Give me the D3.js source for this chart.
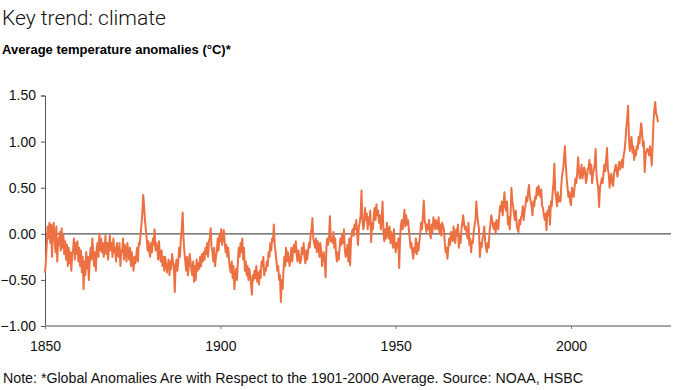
<!DOCTYPE html>
<html>
<head>
<meta charset="utf-8">
<script src="https://cdn.jsdelivr.net/npm/d3@7"></script>
<style>
  body { margin: 0; background: #fff; }
  svg { display: block; }
</style>
</head>
<body>
<div id="chart"></div>
<script>
const title = "Key trend: climate";
const subtitle = "Average temperature anomalies (°C)*";
const note = "Note: *Global Anomalies Are with Respect to the 1901-2000 Average. Source: NOAA, HSBC";

const startYear = 1850;
const stepsPerYear = 4;
const yTicks = [-1.0, -0.5, 0.0, 0.5, 1.0, 1.5];
const xTicks = [1850, 1900, 1950, 2000];

// Quarterly global temperature anomalies (°C), 1850 Q1 .. 2024 Q4
const anomaly = [
-0.42,-0.30,-0.12,0.08, -0.05,0.12,-0.10,0.10, -0.25,0.05,0.12,-0.08, -0.20,0.08,-0.30,-0.05, -0.12,0.02,-0.18,0.06,
-0.15,-0.02,-0.22,-0.08, -0.28,-0.12,-0.35,-0.15, -0.32,-0.20,-0.40,-0.22, -0.18,-0.05,-0.28,-0.10, -0.22,-0.08,-0.30,-0.15,
-0.35,-0.18,-0.42,-0.25, -0.60,-0.30,-0.45,-0.20, -0.38,-0.25,-0.50,-0.30, -0.15,-0.28,-0.05,-0.20, -0.35,-0.20,-0.40,-0.15,
-0.10,-0.25,0.00,-0.18, -0.05,-0.20,-0.10,-0.25, -0.15,-0.02,-0.22,-0.10, -0.28,-0.12,-0.02,-0.18, -0.10,-0.25,-0.05,-0.20,
-0.15,-0.30,-0.10,-0.22, -0.25,-0.10,-0.35,-0.18, -0.20,-0.05,-0.28,-0.12, -0.18,-0.30,-0.10,-0.22, -0.28,-0.15,-0.35,-0.20,
-0.30,-0.40,-0.25,-0.32, -0.25,-0.15,-0.30,-0.10, -0.12,0.00,0.10,0.22, 0.42,0.30,0.15,0.05, -0.05,-0.18,-0.08,-0.20,
-0.25,-0.10,-0.20,-0.05, -0.12,0.05,-0.18,-0.10, -0.15,-0.28,-0.08,-0.22, -0.30,-0.18,-0.35,-0.25, -0.40,-0.25,-0.32,-0.42,
-0.35,-0.28,-0.45,-0.30, -0.38,-0.22,-0.30,-0.35, -0.63,-0.35,-0.28,-0.40, -0.30,-0.15,-0.25,-0.05, 0.05,0.23,-0.05,-0.20,
-0.30,-0.40,-0.25,-0.45, -0.35,-0.22,-0.30,-0.40, -0.45,-0.30,-0.52,-0.35, -0.50,-0.28,-0.40,-0.32, -0.38,-0.25,-0.35,-0.22,
-0.30,-0.20,-0.28,-0.15, -0.22,-0.10,-0.25,-0.08, -0.05,0.06,-0.15,-0.20, -0.30,-0.15,-0.35,-0.25, -0.20,-0.05,-0.18,0.00,
-0.08,0.05,-0.12,-0.02, 0.04,-0.10,-0.20,-0.12, -0.25,-0.15,-0.30,-0.38, -0.42,-0.30,-0.48,-0.35, -0.60,-0.45,-0.38,-0.50,
-0.30,-0.15,-0.25,-0.10, -0.20,-0.05,-0.28,-0.15, -0.40,-0.30,-0.45,-0.35, -0.50,-0.38,-0.45,-0.55, -0.66,-0.45,-0.50,-0.40,
-0.48,-0.35,-0.52,-0.42, -0.55,-0.40,-0.48,-0.30, -0.35,-0.25,-0.45,-0.38, -0.40,-0.30,-0.35,-0.20, -0.25,-0.10,-0.18,-0.05,
-0.08,0.10,-0.12,-0.20, -0.30,-0.40,-0.35,-0.50, -0.45,-0.74,-0.50,-0.60, -0.40,-0.25,-0.35,-0.15, -0.30,-0.20,-0.28,-0.35,
-0.25,-0.15,-0.30,-0.18, -0.12,-0.20,-0.08,-0.22, -0.30,-0.18,-0.25,-0.32, -0.28,-0.15,-0.22,-0.10, -0.25,-0.32,-0.18,-0.28,
-0.20,-0.10,-0.15,0.00, 0.05,0.17,-0.05,-0.10, -0.15,-0.05,-0.20,-0.08, -0.12,-0.25,-0.10,-0.18, -0.35,-0.25,-0.20,-0.30,
-0.47,-0.15,-0.05,-0.12, -0.02,0.19,-0.08,-0.05, -0.10,0.02,-0.15,-0.05, -0.22,-0.30,-0.20,-0.28, -0.15,-0.05,-0.12,0.00,
-0.10,0.05,-0.18,-0.25, -0.20,-0.12,-0.30,-0.05, -0.34,-0.08,0.02,0.05, -0.02,0.10,0.05,0.15, 0.00,-0.12,0.08,0.12,
0.20,0.47,0.15,0.05, 0.10,0.28,0.15,0.22, 0.05,0.18,0.10,0.25, -0.09,0.12,0.05,0.20, 0.28,0.15,0.32,0.20,
0.25,0.12,0.20,0.05, 0.15,0.35,0.02,-0.08, 0.05,-0.05,0.12,0.00, -0.05,0.08,-0.10,0.02, -0.08,-0.15,0.05,-0.12,
-0.20,-0.10,-0.15,-0.05, -0.37,-0.05,0.10,0.15, 0.05,0.15,0.26,0.08, 0.20,0.10,0.15,0.05, -0.05,-0.15,-0.10,-0.20,
-0.27,-0.15,-0.20,-0.05, -0.22,-0.10,-0.18,-0.08, 0.00,0.12,0.05,0.20, 0.36,0.15,0.10,0.02, 0.10,0.05,0.15,0.00,
-0.05,0.10,0.02,0.18, 0.12,0.05,0.15,0.08, 0.05,0.18,0.00,0.10, -0.02,0.12,0.08,0.05, -0.10,-0.20,-0.15,-0.27,
-0.15,-0.05,-0.12,0.02, 0.00,-0.08,0.08,-0.05, -0.10,0.05,-0.02,0.10, -0.15,-0.02,-0.10,0.05, 0.12,0.20,0.10,0.05,
0.08,0.00,-0.05,0.12, -0.12,-0.05,-0.20,-0.08, -0.10,0.02,0.10,0.15, 0.35,0.20,0.12,0.05, -0.25,-0.10,-0.15,-0.05,
-0.02,0.08,-0.08,-0.15, -0.20,-0.10,-0.15,0.02, 0.10,0.20,0.15,0.08, 0.05,0.12,0.00,0.15, 0.10,0.05,0.18,0.30,
0.25,0.35,0.20,0.30, 0.45,0.30,0.25,0.35, 0.10,0.18,0.05,0.20, 0.50,0.35,0.30,0.20, 0.15,0.25,0.10,0.05,
0.02,0.15,0.10,0.18, 0.20,0.30,0.15,0.25, 0.30,0.40,0.35,0.45, 0.53,0.40,0.35,0.30, 0.20,0.35,0.30,0.40,
0.38,0.50,0.42,0.52, 0.45,0.40,0.48,0.30, 0.28,0.20,0.15,0.22, 0.04,0.25,0.20,0.30, 0.10,0.35,0.30,0.45,
0.55,0.76,0.45,0.40, 0.30,0.45,0.35,0.40, 0.35,0.55,0.65,0.70, 0.82,0.95,0.75,0.60, 0.50,0.40,0.45,0.35,
0.31,0.50,0.45,0.40, 0.50,0.60,0.55,0.65, 0.83,0.70,0.60,0.65, 0.75,0.60,0.65,0.72, 0.68,0.55,0.60,0.70,
0.72,0.80,0.65,0.75, 0.55,0.65,0.70,0.75, 0.92,0.65,0.55,0.50, 0.29,0.50,0.55,0.60, 0.55,0.65,0.75,0.68,
0.80,0.93,0.70,0.65, 0.50,0.60,0.65,0.55, 0.52,0.65,0.70,0.75, 0.68,0.62,0.72,0.78, 0.70,0.75,0.80,0.72,
0.85,0.90,1.00,1.15, 1.25,1.39,1.05,0.90, 1.00,1.05,0.88,0.95, 0.80,0.90,0.85,0.95, 0.92,1.05,0.98,1.10,
1.20,1.10,0.95,1.00, 0.67,0.85,0.90,0.92, 0.90,0.85,0.95,0.88, 0.74,0.95,1.20,1.35, 1.43,1.30,1.28,1.21
];

const data = anomaly.map((v, i) => ({ t: startYear + i / stepsPerYear, v }));

const W = 696, H = 390;
const svg = d3.select("#chart").append("svg").attr("width", W).attr("height", H);

const x = d3.scaleLinear().domain([1850, 2028.5]).range([45, 671]);
const y = d3.scaleLinear().domain([-1, 1.5]).range([326, 95.5]);

const font = "'Liberation Sans', Arial, sans-serif";

// Title & subtitle
svg.append("text").attr("x", 2).attr("y", 25)
  .attr("font-family", "Roboto, 'Liberation Sans', sans-serif").attr("font-weight", 300)
  .attr("font-size", 21).attr("fill", "#111").text(title);
svg.append("text").attr("x", 2).attr("y", 54)
  .attr("font-family", font).attr("font-weight", "bold")
  .attr("font-size", 13).attr("fill", "#000").text(subtitle);

// Y axis
const yAxis = d3.axisLeft(y).tickValues(yTicks).tickSize(4).tickPadding(5)
  .tickFormat(d3.format(".2f"));
const gy = svg.append("g").attr("transform", "translate(45,0)").call(yAxis);
gy.select(".domain").attr("stroke", "#555").attr("stroke-width", 1);
gy.selectAll(".tick line").attr("stroke", "#555");
gy.selectAll(".tick text").attr("font-family", font).attr("font-size", 14).attr("fill", "#111");

// X axis at y = -1
const xAxis = d3.axisBottom(x).tickValues(xTicks).tickSize(3).tickPadding(12)
  .tickFormat(d3.format("d"));
const gx = svg.append("g").attr("transform", `translate(0,${y(-1)})`).call(xAxis);
gx.select(".domain").attr("stroke", "#888").attr("stroke-width", 1.5).attr("d", `M${x(1850)},0H${x(2028.5)}`);
gx.selectAll(".tick line").attr("stroke", "#777");
gx.selectAll(".tick text").attr("font-family", font).attr("font-size", 14).attr("fill", "#111");

// Zero line
svg.append("line")
  .attr("x1", x(1850)).attr("x2", x(2028.5))
  .attr("y1", y(0)).attr("y2", y(0))
  .attr("stroke", "#555").attr("stroke-width", 1.2);

// Series
const line = d3.line().x(d => x(d.t)).y(d => y(d.v));
svg.append("path").datum(data)
  .attr("fill", "none")
  .attr("stroke", "#EC7042")
  .attr("stroke-width", 2)
  .attr("stroke-linejoin", "round")
  .attr("d", line);

// Note
svg.append("text").attr("x", 3).attr("y", 383)
  .attr("font-family", "'Liberation Sans Narrow', 'Liberation Sans', sans-serif").attr("font-size", 14)
  .attr("textLength", 580).attr("lengthAdjust", "spacingAndGlyphs")
  .attr("fill", "#111").text(note);
</script>
</body>
</html>
